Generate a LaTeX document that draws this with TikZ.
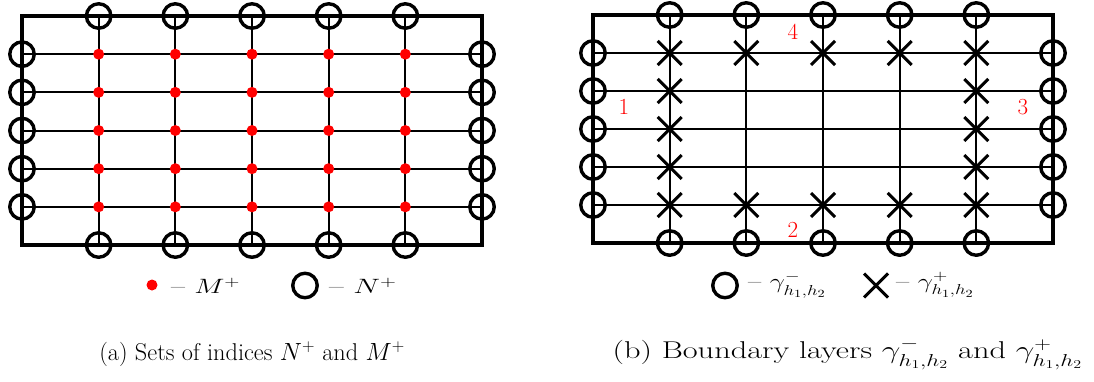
\documentclass[tikz,border=0pt]{standalone}
\usepackage{amsmath}
\usetikzlibrary{shapes.misc}
\begin{document}
\begin{tikzpicture}[x=1pt,y=-1pt,
  frame/.style={line width=3.4pt,line cap=rect},
  gridline/.style={line width=2pt},
  ring/.style={circle,draw,line width=3.4pt,minimum size=24.5pt,inner sep=0pt},
  dot/.style={circle,fill=red,minimum size=11pt,inner sep=0pt},
  crossmark/.style={cross out,draw,line width=3pt,minimum size=21pt,inner sep=0pt},
  lbl/.style={text=red,font=\fontsize{23}{27}\selectfont},
  legend/.style={font=\fontsize{22}{26}\selectfont,anchor=west,inner sep=0pt},
  caption/.style={font=\fontsize{24.3}{29}\selectfont,inner sep=0pt}]
\useasboundingbox (0,0) rectangle (1094,381);

% ---------- panel (a): index sets ----------
\begin{scope}[shift={(22,16)}]
  \def\dx{76.667}\def\dy{38.17}
  \foreach \j in {1,...,5} \draw[gridline] (0,\j*\dy) -- (6*\dx,\j*\dy);
  \foreach \i in {1,...,5} \draw[gridline] (\i*\dx,0) -- (\i*\dx,6*\dy);
  \draw[frame] (0,0) rectangle (6*\dx,6*\dy);
  \foreach \i in {1,...,5} {
    \node[ring] (at\i) at (\i*\dx,0) {};
    \node[ring] (ab\i) at (\i*\dx,6*\dy) {};
    \node[ring] (al\i) at (0,\i*\dy) {};
    \node[ring] (ar\i) at (6*\dx,\i*\dy) {};
    \foreach \j in {1,...,5} \node[dot] (am\i\j) at (\i*\dx,\j*\dy) {};
  }
\end{scope}
\node[dot] (legdot) at (152,285) {};
\node[legend] (legM) at (171,286) {\scalebox{1.38}[1]{-- $M^+$}};
\node[ring] (legring) at (305,285.5) {};
\node[legend] (legN) at (329,286) {\scalebox{1.45}[1]{-- $N^+$}};
\node[caption] (capa) at (252,354) {(a) Sets of indices $N^+$ and $M^+$};

% ---------- panel (b): boundary layers ----------
\begin{scope}[shift={(593,15)}]
  \def\dx{76.667}\def\dy{38.0}
  \foreach \j in {1,...,5} \draw[gridline] (0,\j*\dy) -- (6*\dx,\j*\dy);
  \foreach \i in {1,...,5} \draw[gridline] (\i*\dx,0) -- (\i*\dx,6*\dy);
  \draw[frame] (0,0) rectangle (6*\dx,6*\dy);
  \foreach \i in {1,...,5} {
    \node[ring] (bt\i) at (\i*\dx,0) {};
    \node[ring] (bb\i) at (\i*\dx,6*\dy) {};
    \node[ring] (bl\i) at (0,\i*\dy) {};
    \node[ring] (br\i) at (6*\dx,\i*\dy) {};
  }
  \foreach \j in {1,...,5} {
    \node[crossmark] (bxl\j) at (\dx,\j*\dy) {};
    \node[crossmark] (bxr\j) at (5*\dx,\j*\dy) {};
  }
  \foreach \i in {2,3,4} {
    \node[crossmark] (bxt\i) at (\i*\dx,\dy) {};
    \node[crossmark] (bxb\i) at (\i*\dx,5*\dy) {};
  }
\end{scope}
\node[lbl] (side1) at (624,107) {1};
\node[lbl] (side2) at (793,230) {2};
\node[lbl] (side3) at (1023,107) {3};
\node[lbl] (side4) at (793,32) {4};
\node[ring] (legminus) at (725,285.5) {};
\node[legend] (legGm) at (748,285) {\scalebox{1.3}[1]{-- $\gamma^-_{h_1,h_2}$}};
\node[crossmark] (legplus) at (876,285.5) {};
\node[legend] (legGp) at (896,285) {\scalebox{1.3}[1]{-- $\gamma^+_{h_1,h_2}$}};
\node[caption] (capb) at (847.5,354) {\scalebox{1.33}[1]{(b) Boundary layers $\gamma^-_{h_1,h_2}$ and $\gamma^+_{h_1,h_2}$}};
\end{tikzpicture}
\end{document}
